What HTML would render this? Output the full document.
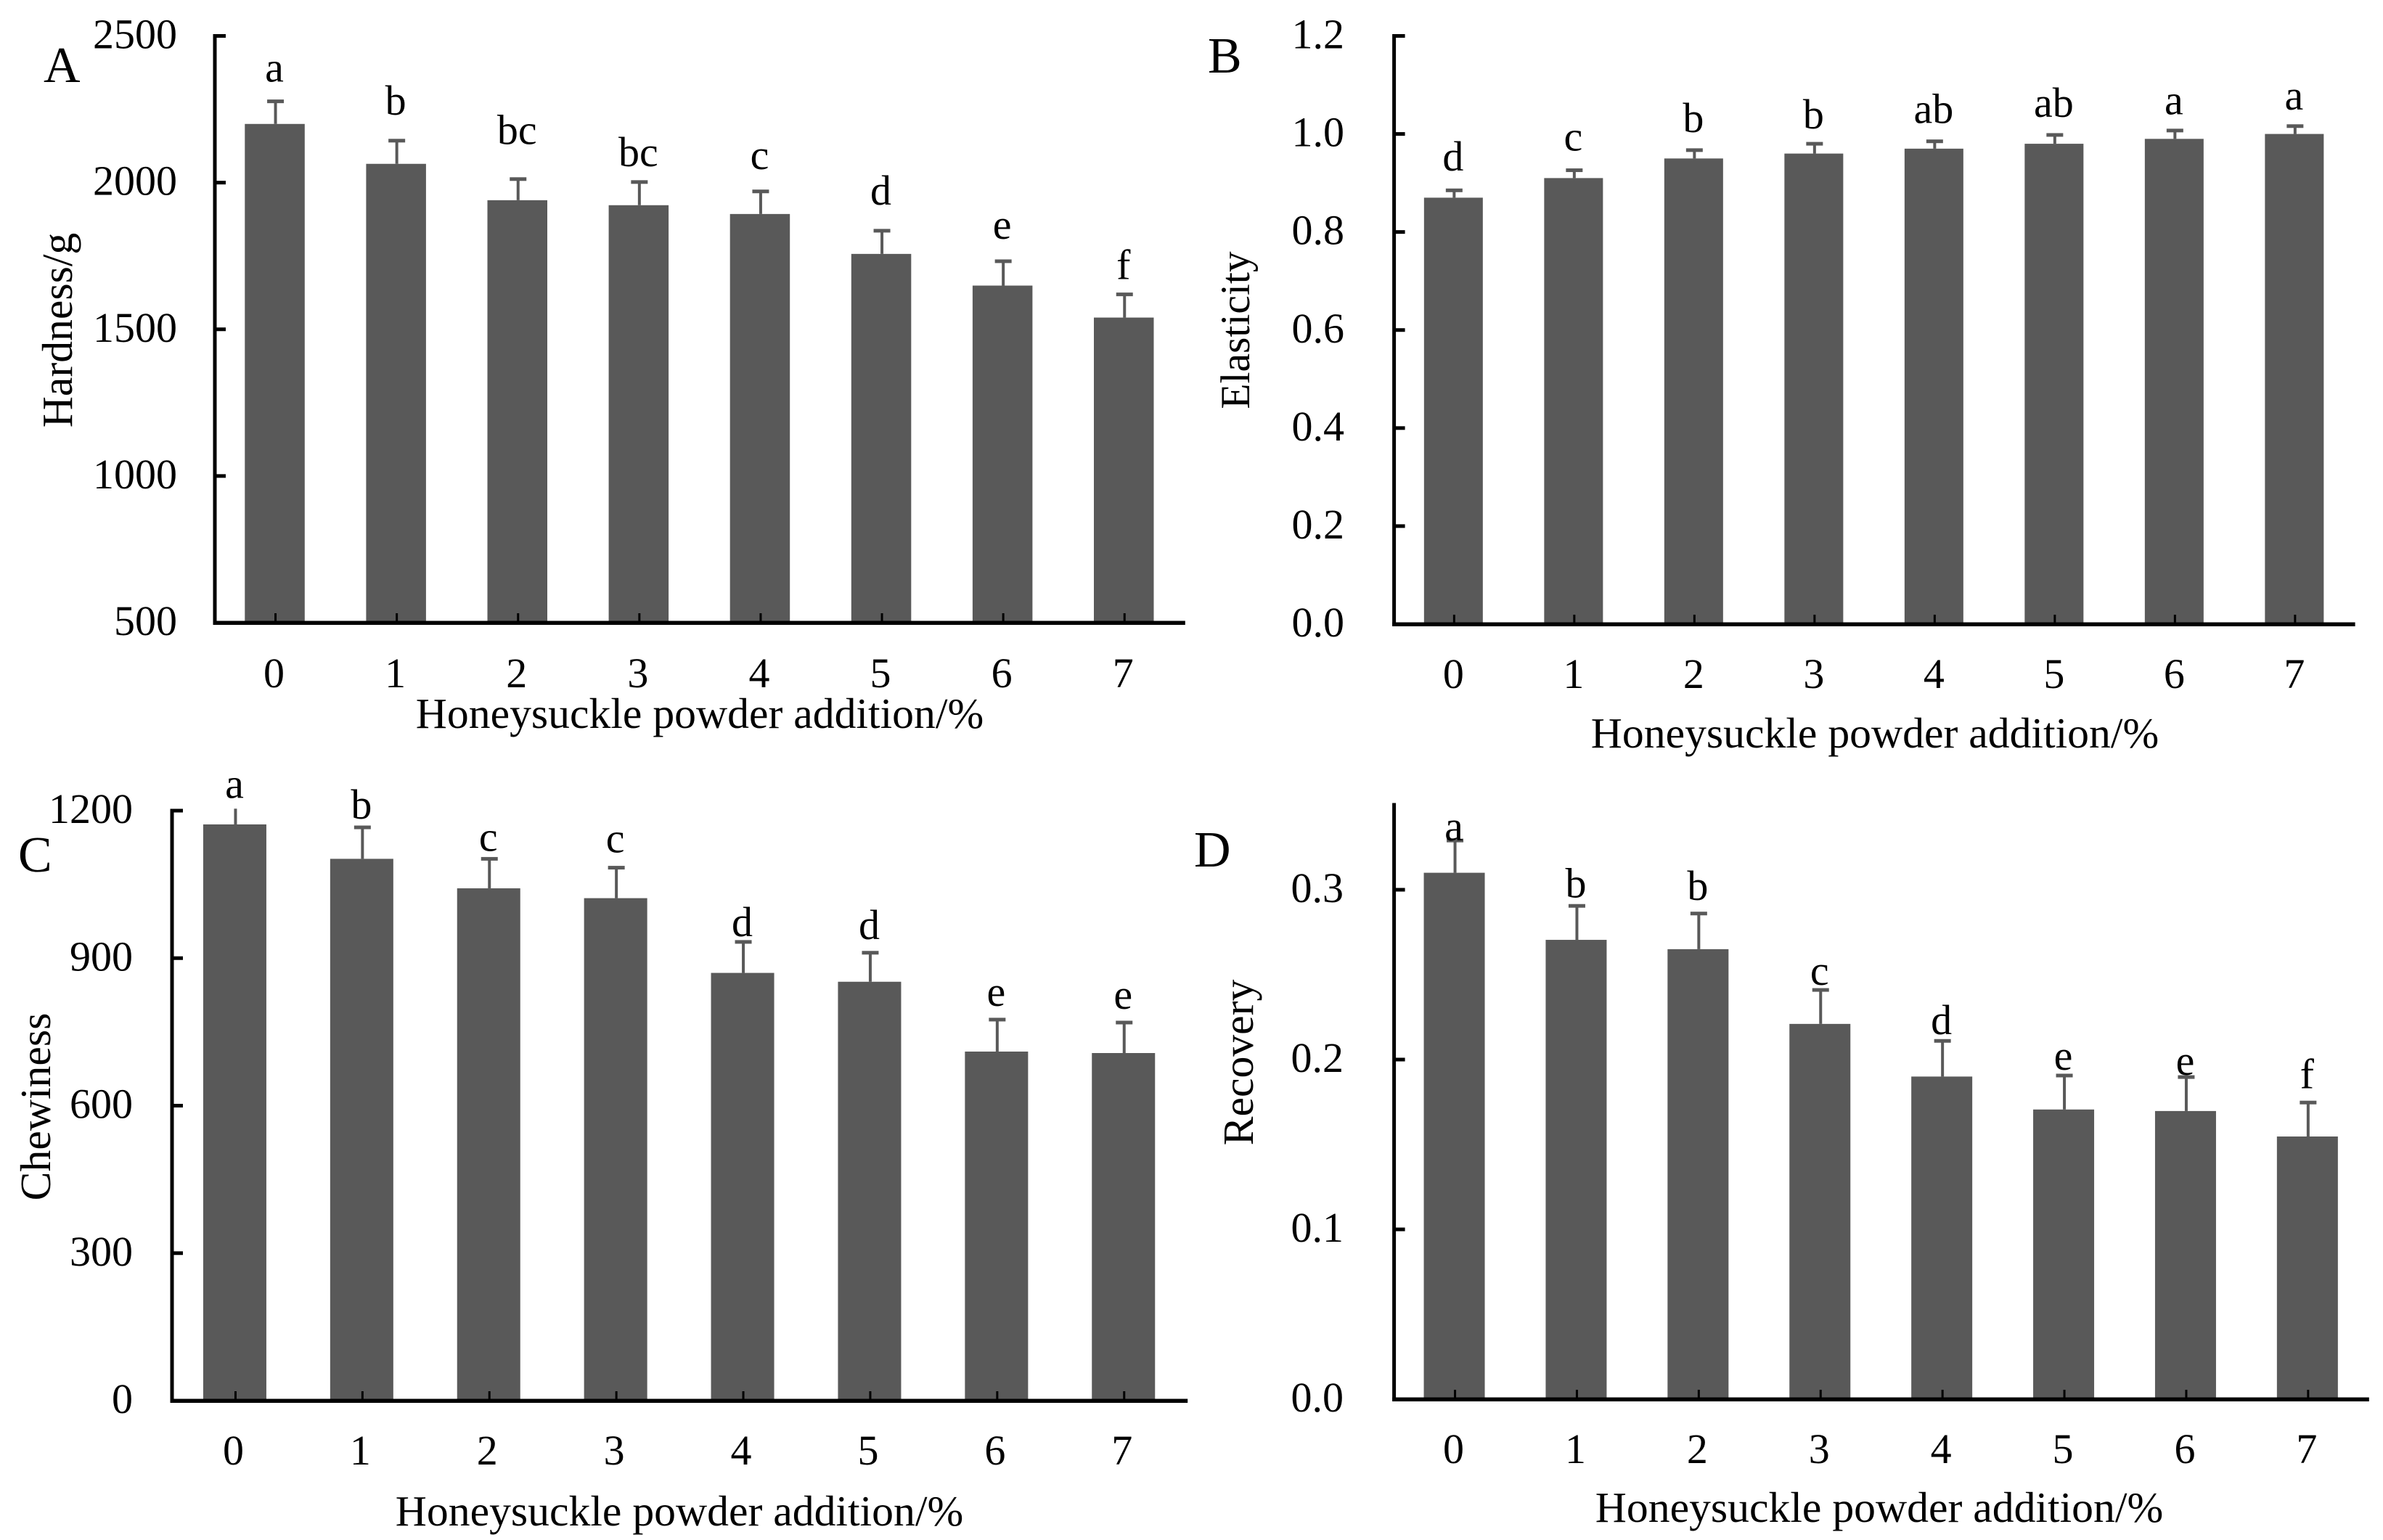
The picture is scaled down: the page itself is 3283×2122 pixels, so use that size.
<!DOCTYPE html>
<html lang="en">
<head>
<meta charset="utf-8">
<title>Texture properties vs honeysuckle powder addition</title>
<style>
html,body{margin:0;padding:0;background:#fff;}
#figure{display:block;width:3283px;height:2122px;background:#fff;}
text{font-family:"Liberation Serif",serif;fill:#000;}
.tick{font-size:58px;}
.title{font-size:59.7px;}
.panel{font-size:70px;}
.sig{font-size:58px;}
</style>
</head>
<body>
<svg id="figure" xmlns="http://www.w3.org/2000/svg" width="3283" height="2122" viewBox="0 0 3283 2122">
  <g id="panel-a">
    <text class="panel" x="60" y="113">A</text>
    <text class="title" transform="translate(99 455) rotate(-90)" text-anchor="middle">Hardness/g</text>
    <text class="title" x="964" y="1003" text-anchor="middle">Honeysuckle powder addition/%</text>
  </g>
  <g id="panel-b">
    <text class="panel" x="1664" y="100">B</text>
    <text class="title" style="font-size:57.5px" transform="translate(1721 455) rotate(-90)" text-anchor="middle">Elasticity</text>
    <text class="title" x="2583" y="1030" text-anchor="middle">Honeysuckle powder addition/%</text>
  </g>
  <g id="panel-c">
    <text class="panel" x="25" y="1201">C</text>
    <text class="title" transform="translate(69 1525) rotate(-90)" text-anchor="middle">Chewiness</text>
    <text class="title" x="936" y="2102" text-anchor="middle">Honeysuckle powder addition/%</text>
  </g>
  <g id="panel-d">
    <text class="panel" x="1645" y="1194">D</text>
    <text class="title" transform="translate(1726 1464) rotate(-90)" text-anchor="middle">Recovery</text>
    <text class="title" x="2589" y="2097" text-anchor="middle">Honeysuckle powder addition/%</text>
  </g>
</svg>
<script>
const categories = ['0', '1', '2', '3', '4', '5', '6', '7'];

const hardnessValues = [2200, 2064, 1940, 1923, 1893, 1757, 1649, 1540];
const hardnessErrors = [77, 79, 72, 79, 77, 79, 83, 79];
const hardnessLetters = ['a', 'b', 'bc', 'bc', 'c', 'd', 'e', 'f'];
const hardnessLetterLift = [67, 89, 119, 54, 76, 89, 76, 52];
const hardnessTicks = [500, 1000, 1500, 2000, 2500];
const hardnessTickLabels = ['500', '1000', '1500', '2000', '2500'];

const elasticityValues = [0.87, 0.91, 0.95, 0.96, 0.97, 0.98, 0.99, 1.0];
const elasticityErrors = [0.015, 0.016, 0.017, 0.02, 0.015, 0.018, 0.017, 0.016];
const elasticityLetters = ['d', 'c', 'b', 'b', 'ab', 'ab', 'a', 'a'];
const elasticityLetterLift = [0.04, 0.04, 0.037, 0.031, 0.037, 0.037, 0.033, 0.034];
const elasticityTicks = [0, 0.2, 0.4, 0.6, 0.8, 1.0, 1.2];
const elasticityTickLabels = ['0.0', '0.2', '0.4', '0.6', '0.8', '1.0', '1.2'];

const chewinessValues = [1172, 1102, 1042, 1022, 870, 852, 710, 707];
const chewinessErrors = [32, 64, 60, 62, 63, 59, 65, 62];
const chewinessLetters = ['a', 'b', 'c', 'c', 'd', 'd', 'e', 'e'];
const chewinessLetterLift = [22, 18, 16, 31, 12, 28, 28, 28];
const chewinessTicks = [0, 300, 600, 900, 1200];
const chewinessTickLabels = ['0', '300', '600', '900', '1200'];

const recoveryValues = [0.31, 0.2705, 0.265, 0.221, 0.19, 0.1706, 0.1697, 0.1547];
const recoveryErrors = [0.019, 0.02, 0.021, 0.02, 0.021, 0.02, 0.02, 0.02];
const recoveryLetters = ['a', 'b', 'b', 'c', 'd', 'e', 'e', 'f'];
const recoveryLetterLift = [0, 0.005, 0.008, 0.003, 0.004, 0.0035, 0.0013, 0.0085];
const recoveryTicks = [0, 0.1, 0.2, 0.3];
const recoveryTickLabels = ['0.0', '0.1', '0.2', '0.3'];

const SVG_NS = 'http://www.w3.org/2000/svg';
const BAR_COLOR = '#595959';
const AXIS_COLOR = '#000000';

function shape(parent, tag, attrs) {
  const node = document.createElementNS(SVG_NS, tag);
  for (const key in attrs) {
    node.setAttribute(key, attrs[key]);
  }
  parent.appendChild(node);
  return node;
}

function drawPanel(id, geom, ticks, tickLabels, values, errors, letters, lifts) {
  const parent = document.getElementById(id);
  const g = shape(parent, 'g', {});
  
  

  const yScale = function (v) {
    return geom.bottom - (v - geom.min) / (geom.max - geom.min) * (geom.bottom - geom.top);
  };
  const xScale = function (i) {
    return geom.left + geom.step * (i + 0.5);
  };

  values.forEach(function (value, i) {
    const cx = xScale(i);
    const yTop = yScale(value);
    const yErr = yScale(value + errors[i]);

    const stem = shape(g, 'rect', {
      x: cx - 2, y: yErr, width: 4, height: yTop - yErr, fill: BAR_COLOR
    });
    
    

    if (value + errors[i] <= geom.max) {
      const cap = shape(g, 'rect', {
        x: cx - 11.5, y: yErr - 2.5, width: 23, height: 5, fill: BAR_COLOR
      });
      
      
    }

    const bar = shape(g, 'rect', {
      x: cx - geom.barWidth / 2 - 1, y: yTop, width: geom.barWidth,
      height: geom.bottom - yTop, fill: BAR_COLOR
    });
    
    

    const sig = shape(g, 'text', {
      x: cx - 1.5, y: yScale(value + errors[i] + lifts[i]), 'text-anchor': 'middle', 'class': 'sig'
    });
    sig.textContent = letters[i];
    
    

    const xTick = shape(g, 'rect', {
      x: cx - 1.5, y: geom.bottom - 13, width: 3, height: 13, fill: AXIS_COLOR
    });
    
    

    const xLabel = shape(g, 'text', {
      x: cx + geom.labelNudge, y: geom.xLabelY, 'text-anchor': 'middle', 'class': 'tick'
    });
    xLabel.textContent = categories[i];
    
    
  });

  const yAxis = shape(g, 'rect', {
    x: geom.left - 2.5, y: yScale(geom.max) - 2.5, width: 5,
    height: geom.bottom - yScale(geom.max) + 5, fill: AXIS_COLOR
  });
  
  

  const xAxis = shape(g, 'rect', {
    x: geom.left - 2.5, y: geom.bottom - 2.5, width: geom.step * categories.length + 2.5,
    height: 5.5, fill: AXIS_COLOR
  });
  
  

  ticks.forEach(function (t, i) {
    const y = yScale(t);
    const yTick = shape(g, 'rect', {
      x: geom.left, y: y - 2.5, width: 15, height: 5, fill: AXIS_COLOR
    });
    
    

    const yLabel = shape(g, 'text', {
      x: geom.yLabelX, y: y + 17, 'text-anchor': 'end', 'class': 'tick'
    });
    yLabel.textContent = tickLabels[i];
    
    
  });
}

drawPanel('panel-a',
  { left: 296, step: 167.1, barWidth: 82.5, top: 49.5, bottom: 858, min: 500, max: 2500, xLabelY: 947, yLabelX: 244, labelNudge: -2 },
  hardnessTicks, hardnessTickLabels, hardnessValues, hardnessErrors, hardnessLetters, hardnessLetterLift);

drawPanel('panel-b',
  { left: 1920.6, step: 165.5, barWidth: 81, top: 49.5, bottom: 860, min: 0, max: 1.2, xLabelY: 948, yLabelX: 1852, labelNudge: -1 },
  elasticityTicks, elasticityTickLabels, elasticityValues, elasticityErrors, elasticityLetters, elasticityLetterLift);

drawPanel('panel-c',
  { left: 237, step: 174.9, barWidth: 87, top: 1117, bottom: 1930, min: 0, max: 1200, xLabelY: 2018, yLabelX: 183, labelNudge: -3 },
  chewinessTicks, chewinessTickLabels, chewinessValues, chewinessErrors, chewinessLetters, chewinessLetterLift);

drawPanel('panel-d',
  { left: 1920.6, step: 167.9, barWidth: 84, top: 1109, bottom: 1928, min: 0, max: 0.35, xLabelY: 2016, yLabelX: 1851, labelNudge: -2 },
  recoveryTicks, recoveryTickLabels, recoveryValues, recoveryErrors, recoveryLetters, recoveryLetterLift);
</script>
</body>
</html>
